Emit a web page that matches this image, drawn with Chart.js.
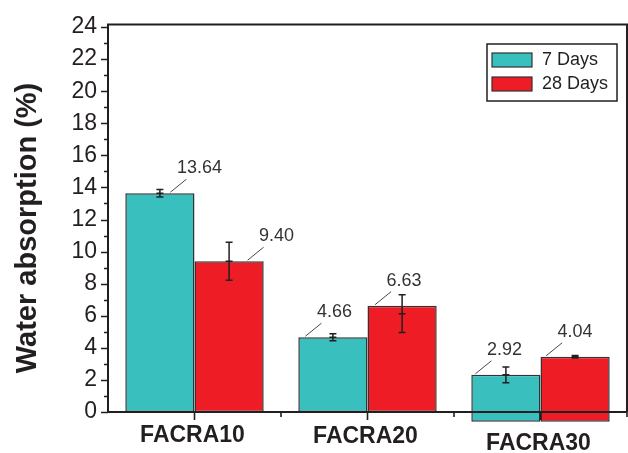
<!DOCTYPE html>
<html>
<head>
<meta charset="utf-8">
<script src="https://cdn.jsdelivr.net/npm/chart.js@4/dist/chart.umd.min.js"></script>
<style>
  html, body { margin: 0; padding: 0; background: #ffffff; }
  #wrap { width: 628px; height: 453px; position: relative; }
</style>
</head>
<body>
<div id="wrap"><canvas id="c" width="628" height="453"></canvas></div>
<script>
// ---- data ----
const categories = ['FACRA10', 'FACRA20', 'FACRA30'];
const seriesNames = ['7 Days', '28 Days'];
const days7 = [13.64, 4.66, 2.92];
const days28 = [9.40, 6.63, 4.04];
// bar base as drawn in the figure (FACRA30 bars start slightly below zero)
const base7 = [0, 0, -0.6];
const base28 = [0, 0, -0.6];
// error bars (half-width) and their centres, measured relative to bar top
const err7 = [0.23, 0.22, 0.49];
const err28 = [1.18, 1.18, 0.08];
const errShift7 = [0, 0, 0];
const errShift28 = [0, -0.5, 0];
const yTickValues = [0, 2, 4, 6, 8, 10, 12, 14, 16, 18, 20, 22, 24];
const yFrameTop = 24.15;

// ---- style ----
const TEAL = '#38BFBE';
const RED = '#EE1D25';
const INK = '#231F20';
const FONT = '"Liberation Sans", Arial, sans-serif';
// leader-line start offset (px) from bar centre, per series
const leaderStart = [[10.5, -27.5, -30.5], [18.5, -27, -29]];
// vertical offset (px) of each category label below the axis
const catLabelDrop = [24, 25, 32];

const floating = (base, vals) => vals.map((v, i) => [base[i], base[i] + v]);

const overlay = {
  id: 'overlay',
  afterDatasetsDraw(chart) {
    const ctx = chart.ctx;
    const ca = chart.chartArea;
    const y = chart.scales.y;
    const x = chart.scales.x;
    ctx.save();
    const y0 = y.getPixelForValue(0);
    const yt = y.getPixelForValue(yFrameTop);
    // frame
    ctx.strokeStyle = INK;
    ctx.lineWidth = 2;
    ctx.beginPath();
    ctx.moveTo(ca.left, y0);
    ctx.lineTo(ca.left, yt);
    ctx.lineTo(ca.right, yt);
    ctx.lineTo(ca.right, y0);
    ctx.moveTo(ca.left, y0);
    ctx.lineTo(ca.right, y0);
    ctx.stroke();
    // y ticks (major even, minor odd)
    ctx.lineWidth = 1.6;
    ctx.beginPath();
    for (let v = 0; v <= 24; v++) {
      const py = Math.round(y.getPixelForValue(v)) + 0.5;
      const len = (v % 2 === 0) ? 7 : 4;
      ctx.moveTo(ca.left, py);
      ctx.lineTo(ca.left - len, py);
    }
    // x ticks: major at category centres, minor at boundaries
    const step = (ca.right - ca.left) / categories.length;
    categories.forEach((c, i) => {
      const px = x.getPixelForValue(i);
      ctx.moveTo(px, y0);
      ctx.lineTo(px, y0 + 8);
      const bx = ca.left + step * (i + 1);
      ctx.moveTo(bx, y0);
      ctx.lineTo(bx, y0 + 5);
    });
    ctx.stroke();

    // category labels
    ctx.fillStyle = INK;
    ctx.font = 'bold 23px ' + FONT;
    ctx.textAlign = 'center';
    ctx.textBaseline = 'middle';
    categories.forEach((c, i) => {
      ctx.fillText(c, x.getPixelForValue(i) - 2, y0 + catLabelDrop[i]);
    });

    // error bars, leader lines, value labels
    const errs = [err7, err28];
    const shifts = [errShift7, errShift28];
    const vals = [days7, days28];
    const bases = [base7, base28];
    ctx.font = '18px ' + FONT;
    ctx.textAlign = 'center';
    ctx.textBaseline = 'middle';
    [0, 1].forEach(d => {
      const meta = chart.getDatasetMeta(d);
      meta.data.forEach((bar, i) => {
        const top = bases[d][i] + vals[d][i];
        const mean = top + shifts[d][i];
        const cx = bar.x;
        const yHi = y.getPixelForValue(mean + errs[d][i]);
        const yLo = y.getPixelForValue(mean - errs[d][i]);
        const yMid = y.getPixelForValue(mean);
        ctx.strokeStyle = INK;
        ctx.lineWidth = 1.5;
        ctx.beginPath();
        ctx.moveTo(cx, yHi); ctx.lineTo(cx, yLo);
        ctx.moveTo(cx - 3.5, yHi); ctx.lineTo(cx + 3.5, yHi);
        ctx.moveTo(cx - 3.5, yLo); ctx.lineTo(cx + 3.5, yLo);
        ctx.moveTo(cx - 3.5, yMid); ctx.lineTo(cx + 3.5, yMid);
        ctx.stroke();
        // leader line
        const ty = y.getPixelForValue(top);
        const sx = cx + leaderStart[d][i];
        const ex = sx + 16, ey = ty - 14;
        ctx.lineWidth = 0.9;
        ctx.strokeStyle = '#333';
        ctx.beginPath();
        ctx.moveTo(sx, ty - 1);
        ctx.lineTo(ex, ey);
        ctx.stroke();
        ctx.fillStyle = '#333';
        ctx.fillText(vals[d][i].toFixed(2), ex + 13, ey - 11);
      });
    });

    // legend
    const lx = 487, ly = 44, lw = 130, lh = 57;
    ctx.fillStyle = '#fff';
    ctx.fillRect(lx, ly, lw, lh);
    ctx.strokeStyle = INK;
    ctx.lineWidth = 1.5;
    ctx.strokeRect(lx, ly, lw, lh);
    const cols = [TEAL, RED];
    ctx.textAlign = 'left';
    ctx.font = '18px ' + FONT;
    seriesNames.forEach((n, k) => {
      const sy = ly + 9 + k * 24;
      ctx.fillStyle = cols[k];
      ctx.fillRect(492, sy, 40, 14);
      ctx.strokeStyle = '#333';
      ctx.lineWidth = 1.2;
      ctx.strokeRect(492, sy, 40, 14);
      ctx.fillStyle = INK;
      ctx.fillText(n, 542, sy + 7.5);
    });

    // y title
    ctx.save();
    ctx.translate(28, 228);
    ctx.rotate(-Math.PI / 2);
    ctx.textAlign = 'center';
    ctx.textBaseline = 'middle';
    ctx.font = 'bold 29px ' + FONT;
    ctx.fillStyle = INK;
    ctx.fillText('Water absorption (%)', 0, 0);
    ctx.restore();

    ctx.restore();
  }
};

new Chart(document.getElementById('c'), {
  type: 'bar',
  data: {
    labels: categories,
    datasets: [
      { label: seriesNames[0], data: floating(base7, days7), backgroundColor: TEAL,
        borderColor: '#333', borderWidth: 1.5, borderSkipped: false, clip: false },
      { label: seriesNames[1], data: floating(base28, days28), backgroundColor: RED,
        borderColor: '#333', borderWidth: 1.5, borderSkipped: false, clip: false }
    ]
  },
  options: {
    responsive: false,
    animation: false,
    devicePixelRatio: 1,
    layout: { padding: { top: 27, right: 1, left: 0, bottom: 0 } },
    plugins: { legend: { display: false }, tooltip: { enabled: false } },
    datasets: { bar: { categoryPercentage: 0.8, barPercentage: 1.0 } },
    scales: {
      x: {
        grid: { display: false, drawTicks: false },
        border: { display: false },
        ticks: { display: false },
        afterFit: s => { s.height = 41; }
      },
      y: {
        min: 0, max: 24,
        grid: { display: false, drawTicks: false },
        border: { display: false },
        ticks: {
          stepSize: 1, autoSkip: false, padding: 11, color: INK,
          font: { family: FONT, size: 23 },
          callback: v => yTickValues.includes(v) ? String(v) : ''
        },
        afterFit: s => { s.width = 108; }
      }
    }
  },
  plugins: [overlay]
});
</script>
</body>
</html>
